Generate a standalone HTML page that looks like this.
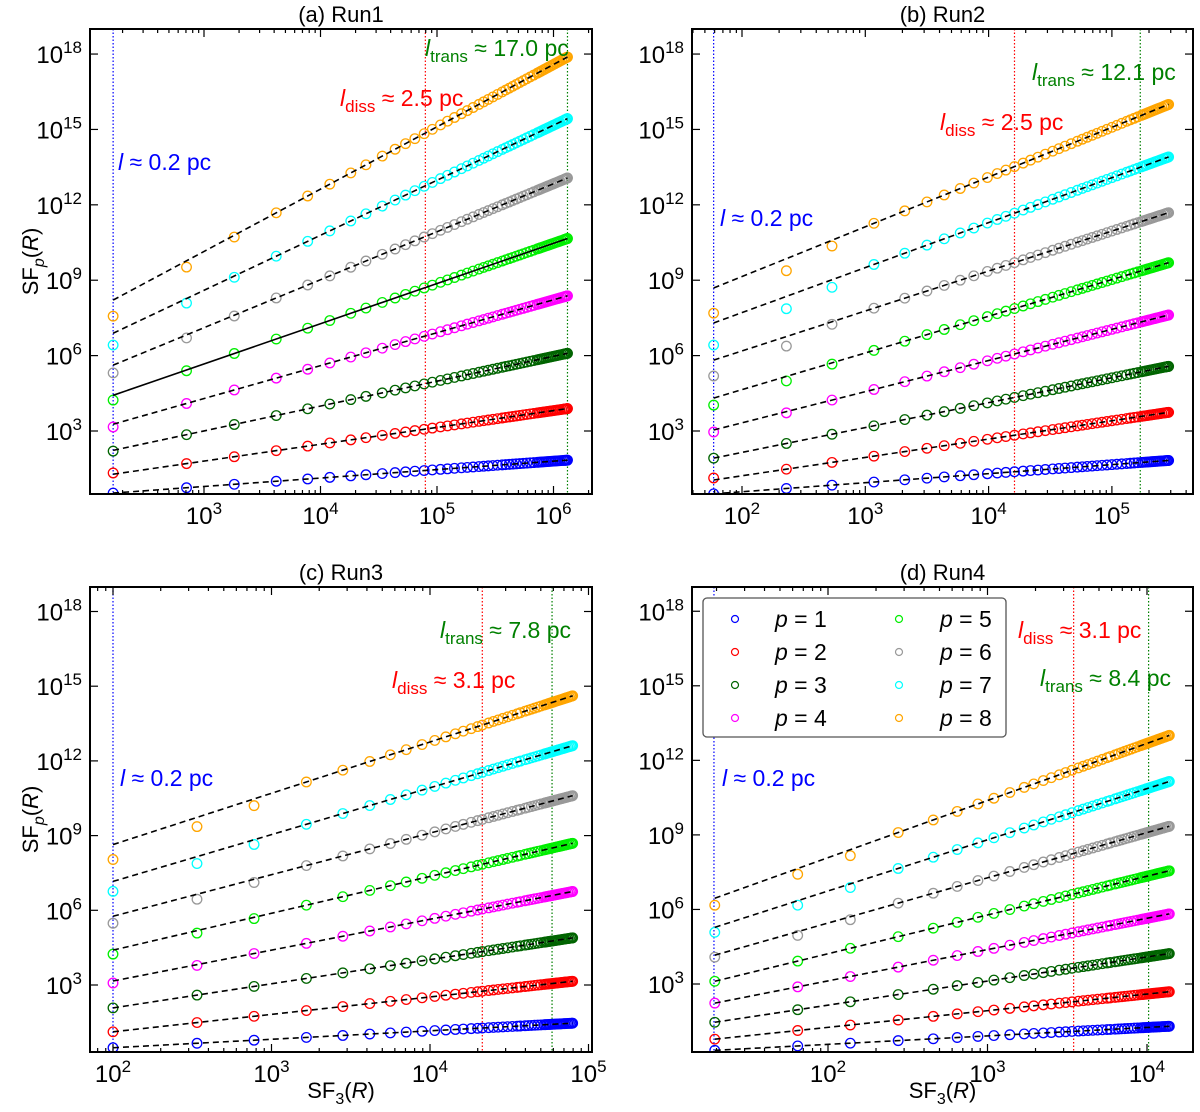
<!DOCTYPE html>
<html><head><meta charset="utf-8">
<style>
html,body{margin:0;padding:0;background:#fff;}
svg{display:block;font-family:"Liberation Sans","DejaVu Sans",sans-serif;}
</style></head>
<body>
<svg id="chart" width="1200" height="1112" viewBox="0 0 1200 1112" xmlns="http://www.w3.org/2000/svg"></svg>
<script>
// ---------- DATA (log10 values) ----------
const pLabels = ["p = 1","p = 2","p = 3","p = 4","p = 5","p = 6","p = 7","p = 8"];
const seriesColors = ["#0000ff","#ff0000","#006400","#ff00ff","#00ee00","#999999","#00ffff","#ffa500"];
const yTickExp = [3,6,9,12,15,18];

// Panel a (Run1)
const sf3_a = [2.22,2.85,3.26,3.62,3.89,4.08,4.26,4.39,4.53,4.64,4.73,4.81,4.89,4.96,5.03,5.09,5.15,5.21,5.26,5.31,5.36,5.40,5.44,5.48,5.52,5.56,5.59,5.62,5.65,5.68,5.71,5.74,5.77,5.80,5.83,5.86,5.89,5.92,5.95,5.98,6.01,6.04,6.07,6.10,6.12,5.875,5.905,5.935,5.965,5.995,6.025,6.055,6.085,6.095,6.105,6.115,6.118];
const icpt_a = [0.53,1.28,2.23,3.27,4.42,5.62,6.89,8.21];
const slope_a = [0.336,0.67,0.99,1.31,1.60,1.91,2.19,2.48];
const dev0_a = [0,0.05,-0.03,-0.11,-0.19,-0.31,-0.47,-0.64];
const dev1_a = [0,0,0,0,-0.03,-0.12,-0.18,-0.25];
const dev2_a = [0,0,0,0,0,-0.03,-0.05,-0.07];
const xTicks_a = [3,4,5,6];
const lines_a = [2.22,4.90,6.12];

// Panel b (Run2)
const sf3_b = [1.77,2.36,2.73,3.07,3.32,3.50,3.64,3.77,3.88,3.99,4.07,4.14,4.21,4.28,4.34,4.40,4.46,4.52,4.57,4.62,4.67,4.72,4.76,4.80,4.84,4.88,4.92,4.96,5.00,5.04,5.08,5.12,5.15,5.18,5.21,5.24,5.27,5.30,5.33,5.36,5.39,5.42,5.44,5.46,5.255,5.285,5.315,5.345,5.375,5.405,5.43,5.45,5.455];
const icpt_b = [0.50,1.05,1.92,3.04,4.31,5.82,7.30,8.69];
const slope_b = [0.36,0.73,0.99,1.24,1.46,1.59,1.79,1.98];
const dev0_b = [0,0.08,0,-0.08,-0.28,-0.63,-0.88,-1.0];
const dev1_b = [0,0,0,-0.05,-0.18,-0.38,-0.49,-0.48];
const dev2_b = [0,0,0,0,-0.05,-0.10,-0.30,-0.23];
const xTicks_b = [2,3,4,5];
const lines_b = [1.77,4.21,5.23];

// Panel c (Run3)
const sf3_c = [2.0,2.53,2.89,3.22,3.45,3.62,3.75,3.85,3.95,4.03,4.10,4.16,4.21,4.26,4.30,4.33,4.37,4.40,4.43,4.46,4.49,4.52,4.55,4.57,4.60,4.62,4.64,4.66,4.68,4.70,4.72,4.74,4.76,4.78,4.80,4.82,4.84,4.86,4.88,4.90,4.73,4.75,4.77,4.79,4.81,4.83,4.85,4.87,4.89,4.895];
const icpt_c = [0.48,1.12,2.08,3.16,4.40,5.76,7.16,8.64];
const slope_c = [0.34,0.70,0.97,1.24,1.48,1.67,1.88,2.06];
const dev0_c = [0,0,0,-0.08,-0.16,-0.28,-0.40,-0.60];
const dev1_c = [0,0,0,-0.03,-0.10,-0.20,-0.28,-0.37];
const dev2_c = [0,0,0,0,-0.05,-0.13,-0.19,-0.27];
const xTicks_c = [2,3,4,5];
const lines_c = [2.0,4.33,4.77];

// Panel d (Run4)
const sf3_d = [1.29,1.81,2.14,2.44,2.66,2.81,2.94,3.04,3.14,3.23,3.29,3.35,3.40,3.45,3.49,3.53,3.57,3.60,3.63,3.66,3.69,3.72,3.75,3.77,3.80,3.82,3.84,3.86,3.88,3.90,3.92,3.94,3.96,3.98,4.00,4.02,4.04,4.06,4.08,4.10,4.12,4.14,3.97,3.99,4.01,4.03,4.05,4.07,4.09,4.11,4.13,4.135];
const icpt_d = [0.33,0.78,1.46,2.23,3.11,4.16,5.28,6.45];
const slope_d = [0.34,0.67,0.97,1.26,1.56,1.82,2.06,2.30];
const dev0_d = [0,0,0,0,0,-0.08,-0.20,-0.28];
const dev1_d = [0,0,0,0,0,-0.15,-0.18,-0.23];
const dev2_d = [0,0,0,0,0,-0.12,-0.15,-0.24];
const xTicks_d = [2,3,4];
const lines_d = [1.285,3.54,4.01];

// ---------- LAYOUT ----------
const NS = "http://www.w3.org/2000/svg";
const svg = document.getElementById("chart");
function mk(tag, attrs, parent){
  const e = document.createElementNS(NS, tag);
  for (const k in attrs) e.setAttribute(k, attrs[k]);
  (parent||svg).appendChild(e);
  return e;
}

const panels = [
  {id:"a", title:"(a) Run1", L:90, R:592, T:29, B:494, xRefLog:3, xRefPx:204, xPpd:116.5, yRefPx:431, yPpd:25.13,
   sf3:sf3_a, icpt:icpt_a, slope:slope_a, dev:[dev0_a,dev1_a,dev2_a], xTicks:xTicks_a, vlines:lines_a, solidP5:true,
   ann:{l:[118,170], diss:[340,106,"2.5"], trans:[425,56,"17.0"]}, ylabel:true, xlabel:false},
  {id:"b", title:"(b) Run2", L:692, R:1193, T:29, B:494, xRefLog:2, xRefPx:742, xPpd:123.3, yRefPx:431, yPpd:25.13,
   sf3:sf3_b, icpt:icpt_b, slope:slope_b, dev:[dev0_b,dev1_b,dev2_b], xTicks:xTicks_b, vlines:lines_b, solidP5:false,
   ann:{l:[720,226], diss:[940,130,"2.5"], trans:[1032,80,"12.1"]}, ylabel:false, xlabel:false},
  {id:"c", title:"(c) Run3", L:90, R:592, T:587, B:1052, xRefLog:2, xRefPx:113, xPpd:158.5, yRefPx:985, yPpd:24.9,
   sf3:sf3_c, icpt:icpt_c, slope:slope_c, dev:[dev0_c,dev1_c,dev2_c], xTicks:xTicks_c, vlines:lines_c, solidP5:false,
   ann:{l:[120,786], diss:[392,688,"3.1"], trans:[440,638,"7.8"]}, ylabel:true, xlabel:true},
  {id:"d", title:"(d) Run4", L:692, R:1193, T:587, B:1052, xRefLog:2, xRefPx:828, xPpd:159.5, yRefPx:984, yPpd:24.85,
   sf3:sf3_d, icpt:icpt_d, slope:slope_d, dev:[dev0_d,dev1_d,dev2_d], xTicks:xTicks_d, vlines:lines_d, solidP5:false,
   ann:{l:[722,786], diss:[1018,638,"3.1"], trans:[1040,686,"8.4"]}, ylabel:false, xlabel:true, legend:true}
];

panels.forEach(P => {
  const g = mk("g", {});
  
  
  const xs = l => P.xRefPx + (l - P.xRefLog) * P.xPpd;
  const ys = l => P.yRefPx - (l - 3) * P.yPpd;
  const clipId = "clip" + P.id;
  const defs = mk("defs", {}, g);
  const cp = mk("clipPath", {id: clipId}, defs);
  mk("rect", {x:P.L, y:P.T, width:P.R-P.L, height:P.B-P.T}, cp);

  const t = mk("text", {x:(P.L+P.R)/2, y:P.T-7, "text-anchor":"middle", "font-size":"22"}, g);
  t.textContent = P.title;
  
  

  const plot = mk("g", {"clip-path":"url(#"+clipId+")"}, g);
  
  

  const vcol = ["#0000ff","#ff0000","#008000"];
  const vnames = ["resolution-line","dissipation-scale-line","transition-scale-line"];
  P.vlines.forEach((v,i) => {
    const ln = mk("line", {x1:xs(v), x2:xs(v), y1:P.T, y2:P.B, stroke:vcol[i], "stroke-width":1.2, "stroke-dasharray":"1.5,2"}, plot);
    
    
  });

  const x0 = P.sf3[0];
  const xN = Math.max.apply(null, P.sf3);
  for (let p = 0; p < 8; p++) {
    const sg = mk("g", {}, plot);
    
    
    P.sf3.forEach((lx, i) => {
      let ly = P.icpt[p] + P.slope[p] * (lx - x0);
      if (i < 3) ly += P.dev[i][p];
      const c = mk("circle", {cx:xs(lx), cy:ys(ly), r:4.8, fill:"none", stroke:seriesColors[p], "stroke-width":1.3}, sg);
      
      
    });
    const solid = P.solidP5 && p === 4;
    const fl = mk("line", {x1:xs(x0), y1:ys(P.icpt[p]), x2:xs(xN), y2:ys(P.icpt[p] + P.slope[p]*(xN-x0)),
      stroke:"#000", "stroke-width":1.6, "stroke-dasharray": solid ? "none" : "6,4"}, sg);
    
    
  }

  const fr = mk("rect", {x:P.L, y:P.T, width:P.R-P.L, height:P.B-P.T, fill:"none", stroke:"#000", "stroke-width":2}, g);
  
  

  for (let d = 0; d <= 7; d++) {
    for (let m = 1; m <= 9; m++) {
      const lx = d + Math.log10(m);
      const px = xs(lx);
      if (px < P.L + 0.5 || px > P.R - 0.5) continue;
      const len = m === 1 ? 8 : 4;
      mk("line", {x1:px, x2:px, y1:P.B, y2:P.B-len, stroke:"#000", "stroke-width":1.2}, g);
      mk("line", {x1:px, x2:px, y1:P.T, y2:P.T+len, stroke:"#000", "stroke-width":1.2}, g);
    }
  }
  P.xTicks.forEach(e => {
    const tx = mk("text", {x:xs(e), y:P.B+30, "text-anchor":"middle", "font-size":"24"}, g);
    
    
    tx.appendChild(document.createTextNode("10"));
    const sp = mk("tspan", {dy:-10, "font-size":"17"}, tx);
    sp.textContent = e;
  });
  yTickExp.forEach(e => {
    const py = ys(e);
    mk("line", {x1:P.L, x2:P.L+8, y1:py, y2:py, stroke:"#000", "stroke-width":1.2}, g);
    mk("line", {x1:P.R, x2:P.R-8, y1:py, y2:py, stroke:"#000", "stroke-width":1.2}, g);
    const ty = mk("text", {x:P.L-8, y:py+9, "text-anchor":"end", "font-size":"24"}, g);
    
    
    ty.appendChild(document.createTextNode("10"));
    const sp = mk("tspan", {dy:-10, "font-size":"17"}, ty);
    sp.textContent = e;
  });

  if (P.ylabel) {
    const cy = (P.T+P.B)/2;
    const yl = mk("text", {x:0, y:0, "font-size":"22", "text-anchor":"middle", transform:"translate(38,"+cy+") rotate(-90)"}, g);
    
    
    yl.appendChild(document.createTextNode("SF"));
    const s1 = mk("tspan", {dy:6, "font-size":"16", "font-style":"italic"}, yl); s1.textContent = "p";
    const s2 = mk("tspan", {dy:-6}, yl); s2.textContent = "(";
    const s3 = mk("tspan", {"font-style":"italic"}, yl); s3.textContent = "R";
    const s4 = mk("tspan", {}, yl); s4.textContent = ")";
  }
  if (P.xlabel) {
    const xl = mk("text", {x:(P.L+P.R)/2, y:1098, "font-size":"22", "text-anchor":"middle"}, g);
    
    
    xl.appendChild(document.createTextNode("SF"));
    const s1 = mk("tspan", {dy:6, "font-size":"16"}, xl); s1.textContent = "3";
    const s2 = mk("tspan", {dy:-6}, xl); s2.textContent = "(";
    const s3 = mk("tspan", {"font-style":"italic"}, xl); s3.textContent = "R";
    const s4 = mk("tspan", {}, xl); s4.textContent = ")";
  }

  function ann(x, y, color, sub, val, name) {
    const a = mk("text", {x:x, y:y, fill:color, "font-size":"23"}, g);
    
    
    const l = mk("tspan", {"font-style":"italic"}, a); l.textContent = "l";
    if (sub) {
      const s = mk("tspan", {dy:6, "font-size":"17"}, a); s.textContent = sub;
      const r = mk("tspan", {dy:-6}, a); r.textContent = " \u2248 " + val + " pc";
    } else {
      const r = mk("tspan", {}, a); r.textContent = " \u2248 " + val + " pc";
    }
  }
  ann(P.ann.l[0], P.ann.l[1], "#0000ff", null, "0.2", "resolution-annotation");
  ann(P.ann.diss[0], P.ann.diss[1], "#ff0000", "diss", P.ann.diss[2], "dissipation-annotation");
  ann(P.ann.trans[0], P.ann.trans[1], "#008000", "trans", P.ann.trans[2], "transition-annotation");

  if (P.legend) {
    const lg = mk("g", {}, g);
    
    
    mk("rect", {x:703, y:598, width:303, height:139, rx:4, fill:"#fff", stroke:"#555", "stroke-width":1.3}, lg);
    for (let p = 0; p < 8; p++) {
      const col = Math.floor(p/4), row = p % 4;
      const mx = col === 0 ? 735 : 899;
      const tx = col === 0 ? 775 : 940;
      const cy = 619 + row * 33;
      const eg = mk("g", {}, lg);
      
      
      mk("circle", {cx:mx, cy:cy, r:3.5, fill:"none", stroke:seriesColors[p], "stroke-width":1.2}, eg);
      const lt = mk("text", {x:tx, y:cy+8, "font-size":"23"}, eg);
      const pi = mk("tspan", {"font-style":"italic"}, lt); pi.textContent = "p";
      const rest = mk("tspan", {}, lt); rest.textContent = pLabels[p].slice(1);
    }
  }
});
</script>
</body></html>
